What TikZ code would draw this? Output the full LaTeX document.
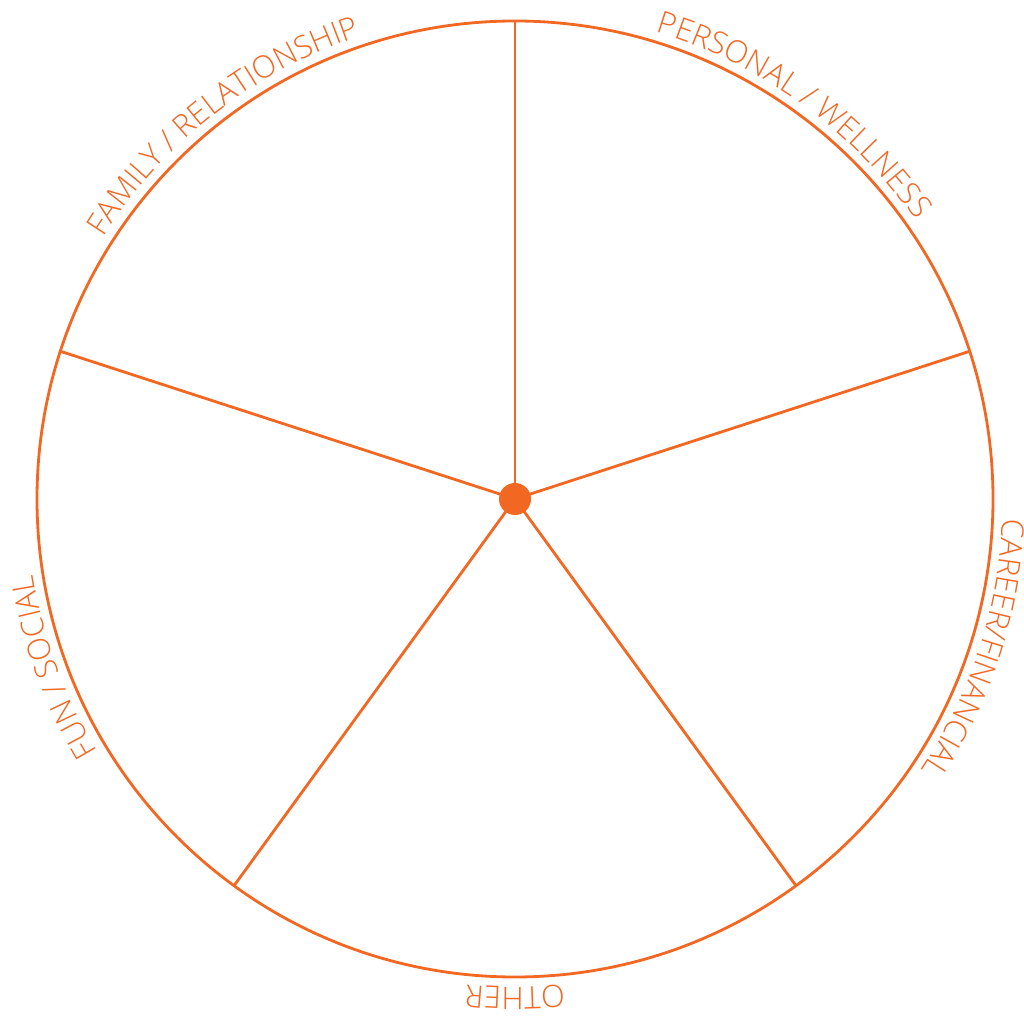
\documentclass[tikz,border=0pt]{standalone}
\usepackage{fontspec}
\setmainfont{Open Sans}[UprightFont=* Light]
\usetikzlibrary{decorations.text,calc}
\definecolor{orng}{HTML}{F26722}
\begin{document}
\begin{tikzpicture}[
  wheel/.style={draw=orng, line width=2.8pt},
  hub/.style={circle, fill=orng, minimum size=32pt, inner sep=0pt},
  lbl/.style={decorate, decoration={text along path, text align=center, text color=orng}}
]
\useasboundingbox (0pt,0pt) rectangle (1024pt,1017pt);
\coordinate (O) at (515pt,518pt);
\draw[wheel] (O) circle[radius=478pt];
\foreach \a/\n in {90/a,18/b,-54/c,-126/d,162/e}
  \coordinate (s\n) at ($(O)+(\a:478pt)$);
\foreach \n in {a,b,c,d,e}
  \draw[wheel] (O) -- (s\n);
\node[hub] (hub) at (O) {};
\path[lbl, decoration={text={|\fontsize{31pt}{31pt}\selectfont|FAMILY / RELATIONSHIP}}]
  ($(O)+(178:488pt)$) arc[start angle=178, end angle=78, radius=488pt];
\path[lbl, decoration={text={|\fontsize{31pt}{31pt}\selectfont|PERSONAL / WELLNESS}}]
  ($(O)+(104:488pt)$) arc[start angle=104, end angle=4, radius=488pt];
\path[lbl, decoration={text={|\fontsize{31pt}{31pt}\selectfont|CAREER/FINANCIAL}}]
  ($(O)+(32:488pt)$) arc[start angle=32, end angle=-68, radius=488pt];
\path[lbl, decoration={text={|\fontsize{31pt}{31pt}\selectfont|OTHER}}]
  ($(O)+(-40:488pt)$) arc[start angle=-40, end angle=-140, radius=488pt];
\path[lbl, decoration={text={|\fontsize{31pt}{31pt}\selectfont|FUN / SOCIAL}}]
  ($(O)+(250:488pt)$) arc[start angle=250, end angle=150, radius=488pt];
\end{tikzpicture}
\end{document}
